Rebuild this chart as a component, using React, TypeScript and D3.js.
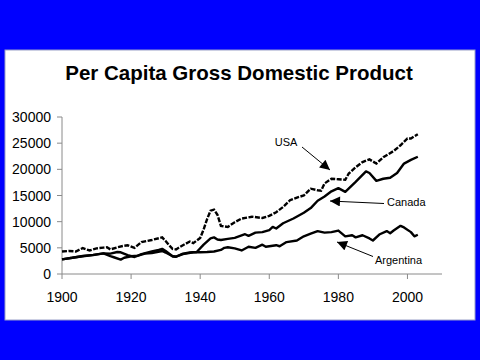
import React from "react";
import * as d3 from "d3";

const usaYears = [1900,1902,1904,1906,1908,1910,1912,1913,1914,1916,1918,1919,1921,1923,1926,1929,1930,1931,1932,1933,1935,1937,1938,1940,1941,1942,1943,1944,1945,1946,1948,1950,1952,1955,1958,1960,1962,1964,1966,1968,1970,1972,1974,1975,1976,1978,1980,1982,1983,1985,1987,1989,1991,1993,1996,1998,2000,2001,2003];
const usaValues = [4300,4400,4300,4950,4500,4900,5050,5100,4700,5100,5400,5500,5000,6100,6500,7000,6300,5500,4800,4700,5500,6200,5900,6900,8500,10500,12100,12300,11300,9200,9000,9900,10600,10950,10700,11100,11800,12800,14100,14600,15000,16300,16000,15900,17300,18200,18100,18000,19200,20400,21400,21900,21100,22300,23500,24600,25900,25900,26700];

const canadaYears = [1900,1903,1906,1909,1912,1914,1916,1917,1919,1921,1923,1926,1928,1929,1930,1932,1933,1935,1937,1939,1941,1943,1944,1945,1946,1948,1950,1953,1954,1956,1958,1960,1961,1962,1964,1967,1970,1972,1974,1976,1978,1980,1982,1985,1988,1989,1991,1993,1995,1997,1999,2001,2003];
const canadaValues = [2800,3100,3450,3650,3950,3900,4200,4150,3600,3250,3800,4300,4600,4800,4400,3400,3300,3900,4100,4200,5600,6800,7000,6600,6500,6700,6900,7600,7300,7900,8000,8400,9000,8700,9700,10600,11700,12600,14000,14800,15800,16400,15700,17600,19600,19300,17800,18200,18400,19300,21100,21800,22400];

const argentinaYears = [1900,1903,1906,1909,1912,1914,1915,1917,1918,1920,1922,1924,1926,1929,1930,1932,1933,1935,1938,1940,1942,1944,1946,1947,1948,1950,1952,1954,1956,1958,1959,1962,1963,1965,1968,1970,1972,1974,1976,1978,1980,1982,1984,1985,1987,1989,1990,1992,1994,1995,1996,1998,1999,2001,2002,2003];
const argentinaValues = [2800,3100,3400,3600,3950,3400,3200,2750,3100,3400,3500,3900,4000,4400,4100,3400,3300,3800,4150,4150,4200,4300,4600,5000,5100,4900,4500,5200,5000,5600,5200,5500,5300,6100,6400,7200,7700,8200,7900,8000,8300,7200,7400,7000,7400,6800,6400,7600,8200,7800,8300,9200,8900,8000,7200,7500];

const yTicks = [0,5000,10000,15000,20000,25000,30000];
const xTicks = [1900,1920,1940,1960,1980,2000];
const title = "Per Capita Gross Domestic Product";

const font = "'Liberation Sans', Arial, sans-serif";

export default function App() {
  const x = d3.scaleLinear().domain([1900, 2010]).range([62, 442]);
  const y = d3.scaleLinear().domain([0, 30000]).range([274, 117]);
  const line = d3.line<[number, number]>().x(d => x(d[0])).y(d => y(d[1]));
  const zip = (a: number[], b: number[]) => a.map((v, i) => [v, b[i]] as [number, number]);
  const axisColor = "#8a8a8a";

  return (
    <svg width={480} height={360} style={{ position: "absolute", left: 0, top: 0 }}>
      <defs>
        <marker id="ah" viewBox="0 0 10 10" refX="10" refY="5" markerWidth="11" markerHeight="10" markerUnits="userSpaceOnUse" orient="auto">
          <path d="M0,0 L10,5 L0,10 Z" fill="#000" />
        </marker>
      </defs>
      <rect x={0} y={0} width={480} height={360} fill="#0000ff" />
      <rect x={5} y={50} width={470} height={270} fill="#fff" stroke="#9aa0c8" strokeWidth={1} />
      <text x={239} y={80} textAnchor="middle" fontFamily={font} fontWeight="bold" fontSize={20.5} fill="#000">{title}</text>

      {/* axes */}
      <line x1={62} x2={62} y1={y(30000)} y2={y(0)} stroke={axisColor} />
      <line x1={62} x2={x(2010)} y1={274} y2={274} stroke={axisColor} />
      {yTicks.map(t => (
        <g key={"y" + t}>
          <line x1={57} x2={62} y1={y(t)} y2={y(t)} stroke={axisColor} />
          <text x={51} y={y(t) + 5} textAnchor="end" fontFamily={font} fontSize={14} fill="#000">{t}</text>
        </g>
      ))}
      {xTicks.map(t => (
        <g key={"x" + t}>
          <line x1={x(t)} x2={x(t)} y1={274} y2={279} stroke={axisColor} />
          <text x={x(t)} y={302} textAnchor="middle" fontFamily={font} fontSize={14} fill="#000">{t}</text>
        </g>
      ))}

      {/* series */}
      <path d={line(zip(argentinaYears, argentinaValues)) || ""} fill="none" stroke="#000" strokeWidth={2.4} strokeLinejoin="round" />
      <path d={line(zip(canadaYears, canadaValues)) || ""} fill="none" stroke="#000" strokeWidth={2.4} strokeLinejoin="round" />
      <path d={line(zip(usaYears, usaValues)) || ""} fill="none" stroke="#000" strokeWidth={2.4} strokeDasharray="5 1.5" />

      {/* annotations */}
      <text x={286} y={146} textAnchor="middle" fontFamily={font} fontSize={11} fill="#000">USA</text>
      <line x1={302} y1={147} x2={330} y2={170} stroke="#000" strokeWidth={1} markerEnd="url(#ah)" />
      <text x={387} y={205.5} fontFamily={font} fontSize={11} fill="#000">Canada</text>
      <line x1={384} y1={203.5} x2={330} y2={201} stroke="#000" strokeWidth={1} markerEnd="url(#ah)" />
      <text x={375} y={264} fontFamily={font} fontSize={11} fill="#000">Argentina</text>
      <line x1={373} y1={256.5} x2={337} y2={242} stroke="#000" strokeWidth={1} markerEnd="url(#ah)" />
    </svg>
  );
}
